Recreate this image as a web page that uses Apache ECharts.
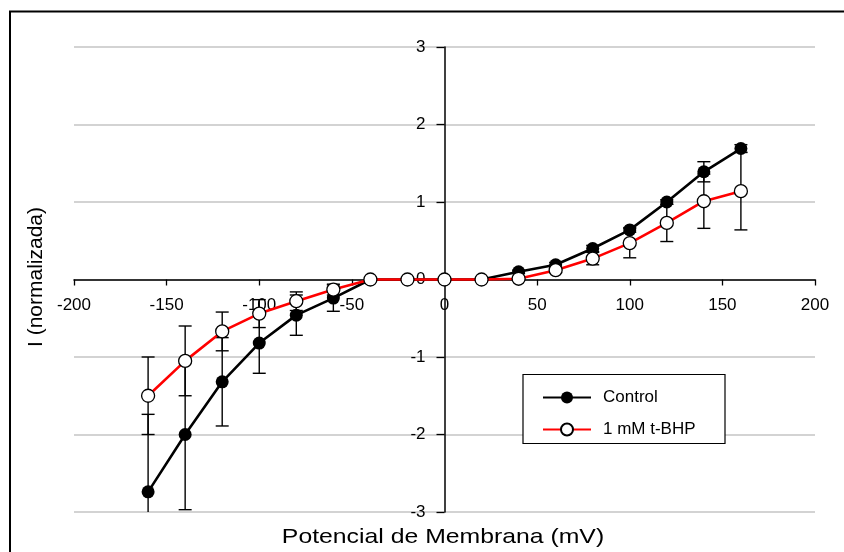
<!DOCTYPE html>
<html>
<head>
<meta charset="utf-8">
<script src="https://cdn.jsdelivr.net/npm/echarts@6/dist/echarts.min.js"></script>
<style>
  html, body { margin: 0; padding: 0; background: #fff; }
  #container { width: 844px; height: 552px; }
</style>
</head>
<body>
<div id="container"></div>
<script>
// membrane potential (mV)
const voltage = [-160, -140, -120, -100, -80, -60, -40, -20, 0, 20, 40, 60, 80, 100, 120, 140, 160];
// normalized current, Control
const control = [-2.74, -2.0, -1.32, -0.82, -0.46, -0.24, 0, 0, 0, 0, 0.1, 0.19, 0.4, 0.64, 1.0, 1.39, 1.69];
const controlErr = [1.0, 0.97, 0.57, 0.39, 0.26, 0.17, 0, 0, 0, 0, 0.02, 0.03, 0.04, 0.03, 0.03, 0.13, 0.05];
// normalized current, 1 mM t-BHP
const tbhp = [-1.5, -1.05, -0.67, -0.44, -0.28, -0.13, 0, 0, 0, 0, 0.01, 0.12, 0.27, 0.47, 0.73, 1.01, 1.14];
const tbhpErr = [0.5, 0.45, 0.25, 0.18, 0.12, 0.07, 0, 0, 0, 0, 0.01, 0.03, 0.08, 0.19, 0.24, 0.35, 0.5];

const xTicks = { min: -200, max: 200, step: 50 };
const yTicks = { min: -3, max: 3, step: 1 };

const seriesNames = ['Control', '1 mM t-BHP'];
const xName = 'Potencial de Membrana (mV)';
const yName = 'I (normalizada)';

const font = '"Liberation Sans", Arial, sans-serif';

// plot area in px
const gridBox = { left: 74, right: 29, top: 47, bottom: 40 };
const plotW = 844 - gridBox.left - gridBox.right;
const plotH = 552 - gridBox.top - gridBox.bottom;
// axes cross at the origin: shift them from the grid edges
const xAxisOffset = -plotH * (0 - yTicks.min) / (yTicks.max - yTicks.min);
const yAxisOffset = -plotW * (0 - xTicks.min) / (xTicks.max - xTicks.min);

let chart = echarts.init(document.getElementById('container'));

function pairs(ys) {
  return voltage.map((v, i) => [v, ys[i]]);
}
function errData(ys, errs) {
  const out = [];
  voltage.forEach((v, i) => {
    if (errs[i] > 0) out.push([v, ys[i] - errs[i], ys[i] + errs[i]]);
  });
  return out;
}

function renderErr(params, api) {
  const x = api.value(0);
  let lo = api.value(1);
  let hi = api.value(2);
  const loCap = lo >= yTicks.min;
  const hiCap = hi <= yTicks.max;
  lo = Math.max(lo, yTicks.min);
  hi = Math.min(hi, yTicks.max);
  const pLo = api.coord([x, lo]);
  const pHi = api.coord([x, hi]);
  const w = 6.5;
  const st = { stroke: '#000', lineWidth: 1.4 };
  const children = [
    { type: 'line', shape: { x1: pLo[0], y1: pLo[1], x2: pHi[0], y2: pHi[1] }, style: st },
  ];
  if (loCap) children.push({ type: 'line', shape: { x1: pLo[0] - w, y1: pLo[1], x2: pLo[0] + w, y2: pLo[1] }, style: st });
  if (hiCap) children.push({ type: 'line', shape: { x1: pHi[0] - w, y1: pHi[1], x2: pHi[0] + w, y2: pHi[1] }, style: st });
  return { type: 'group', children: children };
}

let option = {
  animation: false,
  backgroundColor: '#fff',
  grid: gridBox,
  xAxis: {
    type: 'value',
    min: xTicks.min,
    max: xTicks.max,
    interval: xTicks.step,
    position: 'bottom',
    offset: xAxisOffset,
    axisLine: { onZero: false, lineStyle: { color: '#000', width: 1.5 } },
    axisTick: { show: true, length: 6, lineStyle: { color: '#000', width: 1.3 } },
    axisLabel: { margin: 17, color: '#000', fontSize: 17, fontFamily: font },
    splitLine: { show: false },
  },
  yAxis: {
    type: 'value',
    min: yTicks.min,
    max: yTicks.max,
    interval: yTicks.step,
    position: 'left',
    offset: yAxisOffset,
    axisLine: { show: true, onZero: false, lineStyle: { color: '#000', width: 1.5 } },
    axisTick: { show: true, length: 8, lineStyle: { color: '#000', width: 1.3 } },
    axisLabel: { margin: 19, color: '#000', fontSize: 17, fontFamily: font },
    splitLine: { show: true, lineStyle: { color: '#c4c4c4', width: 1.5 } },
  },
  legend: {
    data: seriesNames,
    orient: 'vertical',
    left: 537,
    top: 384,
    itemWidth: 48,
    itemHeight: 15,
    itemGap: 15,
    z: 20,
    textStyle: { fontSize: 17, fontFamily: font, color: '#000', padding: [0, 0, 0, 7] },
  },
  graphic: [
    {
      type: 'polyline',
      z: 1,
      shape: { points: [[10, 552], [10, 11.5], [844, 11.5]] },
      style: { stroke: '#000', lineWidth: 2, fill: null },
    },
    {
      type: 'rect',
      z: 15,
      shape: { x: 523, y: 374.5, width: 202, height: 69 },
      style: { fill: '#fff', stroke: '#000', lineWidth: 1.2 },
    },
    {
      type: 'text',
      x: 443,
      y: 537,
      scaleX: 1.18,
      style: {
        text: xName,
        font: '21px ' + font,
        fill: '#000',
        textAlign: 'center',
        textVerticalAlign: 'middle',
      },
    },
    {
      type: 'text',
      x: 36,
      y: 277,
      rotation: Math.PI / 2,
      style: {
        text: yName,
        font: '21px ' + font,
        fill: '#000',
        textAlign: 'center',
        textVerticalAlign: 'middle',
      },
    },
  ],
  series: [
    {
      name: 'controlErr',
      type: 'custom',
      renderItem: renderErr,
      data: errData(control, controlErr),
      z: 2,
      silent: true,
    },
    {
      name: seriesNames[0],
      type: 'line',
      data: pairs(control),
      symbol: 'circle',
      symbolSize: 13,
      itemStyle: { color: '#000' },
      lineStyle: { color: '#000', width: 2.6 },
      z: 3,
    },
    {
      name: 'tbhpErr',
      type: 'custom',
      renderItem: renderErr,
      data: errData(tbhp, tbhpErr),
      z: 4,
      silent: true,
    },
    {
      name: seriesNames[1],
      type: 'line',
      data: pairs(tbhp),
      symbol: 'circle',
      symbolSize: 13,
      itemStyle: { color: '#fff', borderColor: '#000', borderWidth: 1.3 },
      lineStyle: { color: '#ff0000', width: 2.6 },
      z: 5,
    },
  ],
};

if (option && typeof option === 'object') {
  chart.setOption(option);
}
</script>
</body>
</html>
